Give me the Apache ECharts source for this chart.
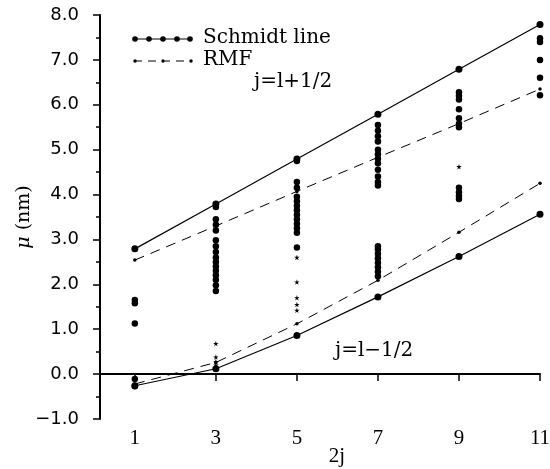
<!DOCTYPE html>
<html>
<head>
<meta charset="utf-8">
<script src="https://cdn.jsdelivr.net/npm/echarts@6/dist/echarts.min.js"></script>
<style>
  html, body { margin: 0; padding: 0; background: #fff; }
  #main { width: 550px; height: 469px; }
</style>
</head>
<body>
<div id="main"></div>
<script>
// 2j values on the x axis
const twoJ = [1, 3, 5, 7, 9, 11];

// Schmidt lines and RMF curves
const schmidtUpper = [2.79, 3.79, 4.79, 5.79, 6.79, 7.79];
const schmidtLower = [-0.26, 0.12, 0.86, 1.72, 2.62, 3.56];
const rmfUpper = [2.54, 3.30, 4.07, 4.83, 5.58, 6.35];
const rmfLower = [-0.22, 0.26, 1.12, 2.09, 3.16, 4.25];

// measured moments (filled circles), one list per 2j
const exp1 = [1.65, 1.58, 1.13, -0.11, -0.27];
const exp3 = [3.72, 3.45, 3.33, 3.2, 2.98, 2.85, 2.72, 2.6, 2.5, 2.4, 2.3, 2.2, 2.1, 1.98, 1.85];
const exp5 = [4.75, 4.28, 4.15, 3.95, 3.85, 3.75, 3.65, 3.55, 3.45, 3.35, 3.25, 3.15, 2.82];
const exp7 = [5.55, 5.42, 5.3, 5.18, 5.0, 4.9, 4.8, 4.7, 4.55, 4.4, 4.28, 4.2,
              2.85, 2.78, 2.68, 2.58, 2.48, 2.38, 2.28, 2.18];
const exp9 = [6.28, 6.2, 6.12, 5.9, 5.7, 5.58, 5.5, 4.15, 4.05, 3.97, 3.9];
const exp11 = [7.48, 7.4, 7.0, 6.6, 6.21];

// small star marks
const star3 = [0.68, 0.38, 0.28, 0.2];
const star5 = [2.6, 2.05, 1.7, 1.55, 1.42];
const star9 = [4.62];

const toPairs = (xs, ys) => ys.map((y, i) => [xs[i], y]);
const column = (x, ys) => ys.map(y => [x, y]);

const expData = [].concat(
  column(1, exp1), column(3, exp3), column(5, exp5),
  column(7, exp7), column(9, exp9), column(11, exp11)
);
const starData = [].concat(column(3, star3), column(5, star5), column(9, star9));

const starPath = 'path://M50,0 L61,35 L98,35 L68,57 L79,91 L50,70 L21,91 L32,57 L2,35 L39,35 Z';
const serif = '"Liberation Serif", "DejaVu Serif", serif';
const wideSerif = '"DejaVu Serif", serif';

const chart = echarts.init(document.getElementById('main'), null, { renderer: 'canvas' });

const option = {
  backgroundColor: '#fff',
  animation: false,
  grid: { left: 100, right: 10, top: 15, bottom: 50, outerBoundsMode: 'none', containLabel: false },
  xAxis: {
    type: 'value',
    min: 0.14,
    max: 11,
    name: '2j',
    nameLocation: 'middle',
    nameGap: 27,
    nameMoveOverlap: false,
    nameTextStyle: { fontFamily: serif, fontSize: 21, color: '#000', padding: [0, 0, 0, 34] },
    axisLine: { lineStyle: { color: '#000', width: 2 } },
    axisTick: { show: true, length: 7, lineStyle: { color: '#000', width: 1.5 }, customValues: twoJ },
    axisLabel: { customValues: twoJ, fontFamily: serif, fontSize: 21, color: '#000', margin: 9 },
    splitLine: { show: false }
  },
  yAxis: {
    type: 'value',
    min: -1,
    max: 8,
    interval: 1,
    name: '{i|μ} (nm)',
    nameLocation: 'middle',
    nameGap: 66,
    nameMoveOverlap: false,
    nameRotate: 90,
    nameTextStyle: {
      fontFamily: wideSerif, fontSize: 19, color: '#000',
      rich: { i: { fontFamily: wideSerif, fontSize: 19, fontStyle: 'italic', color: '#000' } }
    },
    axisLine: { show: true, lineStyle: { color: '#000', width: 2 } },
    axisTick: { show: true, length: 7, lineStyle: { color: '#000', width: 1.5 } },
    minorTick: { show: true, splitNumber: 2, length: 4, lineStyle: { color: '#000', width: 1.5 } },
    axisLabel: {
      fontFamily: '"DejaVu Sans", sans-serif',
      fontSize: 18,
      color: '#000',
      margin: 21,
      formatter: v => (v < 0 ? '\u2212' + Math.abs(v).toFixed(1) : v.toFixed(1))
    },
    splitLine: { show: false }
  },
  graphic: [
    // legend: Schmidt line
    { type: 'line', shape: { x1: 134, y1: 39, x2: 191, y2: 39 }, style: { stroke: '#000', lineWidth: 1.2 } },
    { type: 'circle', shape: { cx: 135, cy: 39, r: 2.8 }, style: { fill: '#000' } },
    { type: 'circle', shape: { cx: 149, cy: 39, r: 2.8 }, style: { fill: '#000' } },
    { type: 'circle', shape: { cx: 163, cy: 39, r: 2.8 }, style: { fill: '#000' } },
    { type: 'circle', shape: { cx: 177, cy: 39, r: 2.8 }, style: { fill: '#000' } },
    { type: 'circle', shape: { cx: 190, cy: 39, r: 2.8 }, style: { fill: '#000' } },
    { type: 'text', left: 203, top: 28, style: { text: 'Schmidt line', font: '20px ' + wideSerif, fill: '#000' } },
    // legend: RMF
    { type: 'line', shape: { x1: 134, y1: 61, x2: 192, y2: 61 }, style: { stroke: '#000', lineWidth: 1, lineDash: [8, 6] } },
    { type: 'circle', shape: { cx: 135, cy: 61, r: 1.7 }, style: { fill: '#000' } },
    { type: 'circle', shape: { cx: 163, cy: 61, r: 1.7 }, style: { fill: '#000' } },
    { type: 'circle', shape: { cx: 191, cy: 61, r: 1.7 }, style: { fill: '#000' } },
    { type: 'text', left: 203, top: 50, style: { text: 'RMF', font: '20px ' + wideSerif, fill: '#000' } },
    // curve labels
    { type: 'text', left: 254, top: 72, style: { text: 'j=l+1/2', font: '20px ' + wideSerif, fill: '#000' } },
    { type: 'text', left: 335, top: 341, style: { text: 'j=l\u22121/2', font: '20px ' + wideSerif, fill: '#000' } }
  ],
  series: [
    {
      name: 'Schmidt upper', type: 'line', data: toPairs(twoJ, schmidtUpper),
      symbol: 'circle', symbolSize: 7, itemStyle: { color: '#000' },
      lineStyle: { color: '#000', width: 1.2 }
    },
    {
      name: 'Schmidt lower', type: 'line', data: toPairs(twoJ, schmidtLower),
      symbol: 'circle', symbolSize: 7, itemStyle: { color: '#000' },
      lineStyle: { color: '#000', width: 1.2 }
    },
    {
      name: 'RMF upper', type: 'line', data: toPairs(twoJ, rmfUpper),
      symbol: 'circle', symbolSize: 3.5, itemStyle: { color: '#000' },
      lineStyle: { color: '#000', width: 1, type: [10, 7] }
    },
    {
      name: 'RMF lower', type: 'line', data: toPairs(twoJ, rmfLower),
      symbol: 'circle', symbolSize: 3.5, itemStyle: { color: '#000' },
      lineStyle: { color: '#000', width: 1, type: [10, 7] }
    },
    {
      name: 'experiment', type: 'scatter', data: expData,
      symbol: 'circle', symbolSize: 6.5, itemStyle: { color: '#000', opacity: 1 }
    },
    {
      name: 'stars', type: 'scatter', data: starData,
      symbol: starPath, symbolSize: 5.5, itemStyle: { color: '#000', opacity: 1 }
    }
  ]
};

chart.setOption(option);
</script>
</body>
</html>
